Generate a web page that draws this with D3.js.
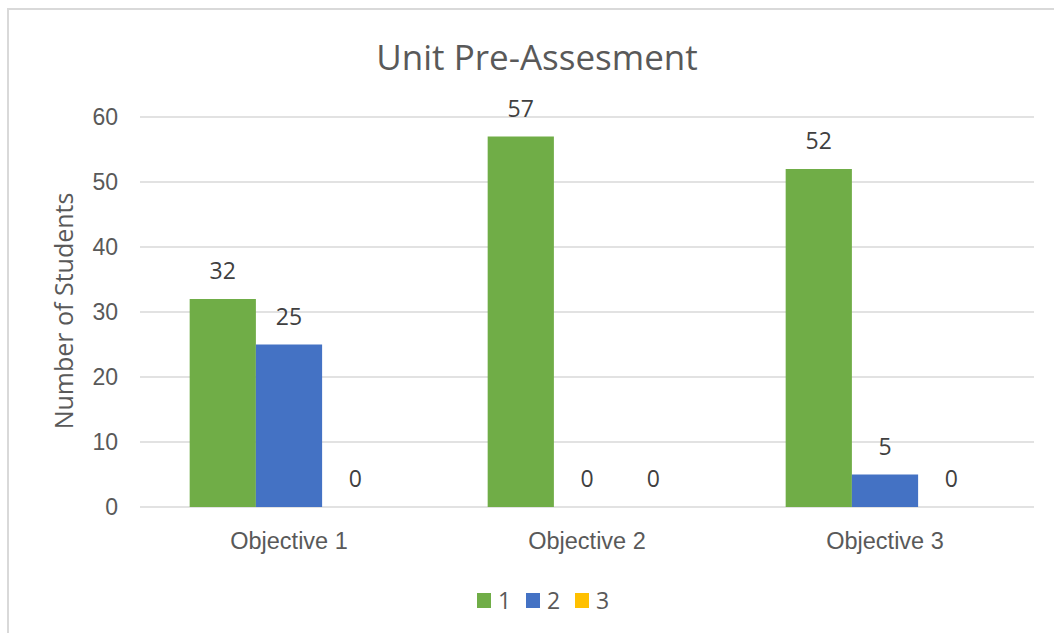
<!DOCTYPE html>
<html>
<head>
<meta charset="utf-8">
<script src="https://cdn.jsdelivr.net/npm/d3@7.9.0/dist/d3.min.js"></script>
<style>
  body { margin: 0; background: #fff; }
  svg { display: block; font-family: "Open Sans", sans-serif; }
</style>
</head>
<body>
<svg id="chart" width="1054" height="633"></svg>
<script>
const categories = ['Objective 1', 'Objective 2', 'Objective 3'];
const seriesNames = ['1', '2', '3'];
const series1 = [32, 57, 52];
const series2 = [25, 0, 5];
const series3 = [0, 0, 0];
const yTicks = [0, 10, 20, 30, 40, 50, 60];

const colors = ['#70AD47', '#4472C4', '#FFC000'];
const textColor = '#595959';

const svg = d3.select('#chart');

// chart frame
svg.append('rect')
  .attr('x', 8).attr('y', 9)
  .attr('width', 1060).attr('height', 640)
  .attr('fill', 'none')
  .attr('stroke', '#d9d9d9')
  .attr('stroke-width', 2);

const margin = { left: 140, right: 20, top: 117, bottom: 126 };
const width = 1054 - margin.left - margin.right;
const height = 633 - margin.top - margin.bottom;

const g = svg.append('g').attr('transform', `translate(${margin.left},${margin.top})`);

const x = d3.scaleBand().domain(categories).range([0, width]);
const x1 = d3.scaleBand().domain(seriesNames).range([0, x.bandwidth()]).paddingOuter(0.75);
const y = d3.scaleLinear().domain([0, 60]).range([height, 0]);

// gridlines
g.selectAll('line.grid')
  .data(yTicks)
  .join('line')
  .attr('class', 'grid')
  .attr('x1', 0).attr('x2', width)
  .attr('y1', d => y(d)).attr('y2', d => y(d))
  .attr('stroke', '#d9d9d9')
  .attr('stroke-width', 1.3);

// y axis labels
const yAxis = g.append('g')
  .call(d3.axisLeft(y).tickValues(yTicks).tickSize(0).tickPadding(22));
yAxis.select('.domain').remove();
yAxis.selectAll('text')
  .attr('fill', textColor)
  .style('font-size', '23px');

// x axis labels
const xAxis = g.append('g')
  .attr('transform', `translate(0,${height})`)
  .call(d3.axisBottom(x).tickSize(0).tickPadding(25));
xAxis.select('.domain').remove();
xAxis.selectAll('text')
  .attr('fill', textColor)
  .style('font-size', '23.5px');

const data = seriesNames.map((s, i) => ({
  name: s,
  color: colors[i],
  values: [series1, series2, series3][i]
}));

const groups = g.selectAll('g.series')
  .data(data)
  .join('g')
  .attr('class', 'series');

groups.selectAll('rect')
  .data(d => d.values.map((v, j) => ({ s: d.name, c: categories[j], v, color: d.color })))
  .join('rect')
  .attr('x', d => x(d.c) + x1(d.s))
  .attr('y', d => y(d.v))
  .attr('width', x1.bandwidth())
  .attr('height', d => height - y(d.v))
  .attr('fill', d => d.color);

groups.selectAll('text')
  .data(d => d.values.map((v, j) => ({ s: d.name, c: categories[j], v })))
  .join('text')
  .attr('x', d => x(d.c) + x1(d.s) + x1.bandwidth() / 2)
  .attr('y', d => y(d.v) - 20)
  .attr('text-anchor', 'middle')
  .attr('fill', '#404040')
  .style('font-size', '23px')
  .text(d => d.v);

// title
svg.append('text')
  .attr('x', 537).attr('y', 70)
  .attr('text-anchor', 'middle')
  .attr('fill', textColor)
  .style('font-size', '35px')
  .text('Unit Pre-Assesment');

// y axis title
svg.append('text')
  .attr('transform', 'translate(73,311) rotate(-90)')
  .attr('text-anchor', 'middle')
  .attr('fill', textColor)
  .style('font-size', '25px')
  .text('Number of Students');

// legend
const legend = svg.append('g').attr('transform', 'translate(477,593)');
const item = legend.selectAll('g')
  .data(data)
  .join('g')
  .attr('transform', (d, i) => `translate(${i * 49},0)`);
item.append('rect')
  .attr('width', 14).attr('height', 15)
  .attr('fill', d => d.color);
item.append('text')
  .attr('x', 21).attr('y', 16)
  .attr('fill', textColor)
  .style('font-size', '23px')
  .text(d => d.name);
</script>
</body>
</html>
